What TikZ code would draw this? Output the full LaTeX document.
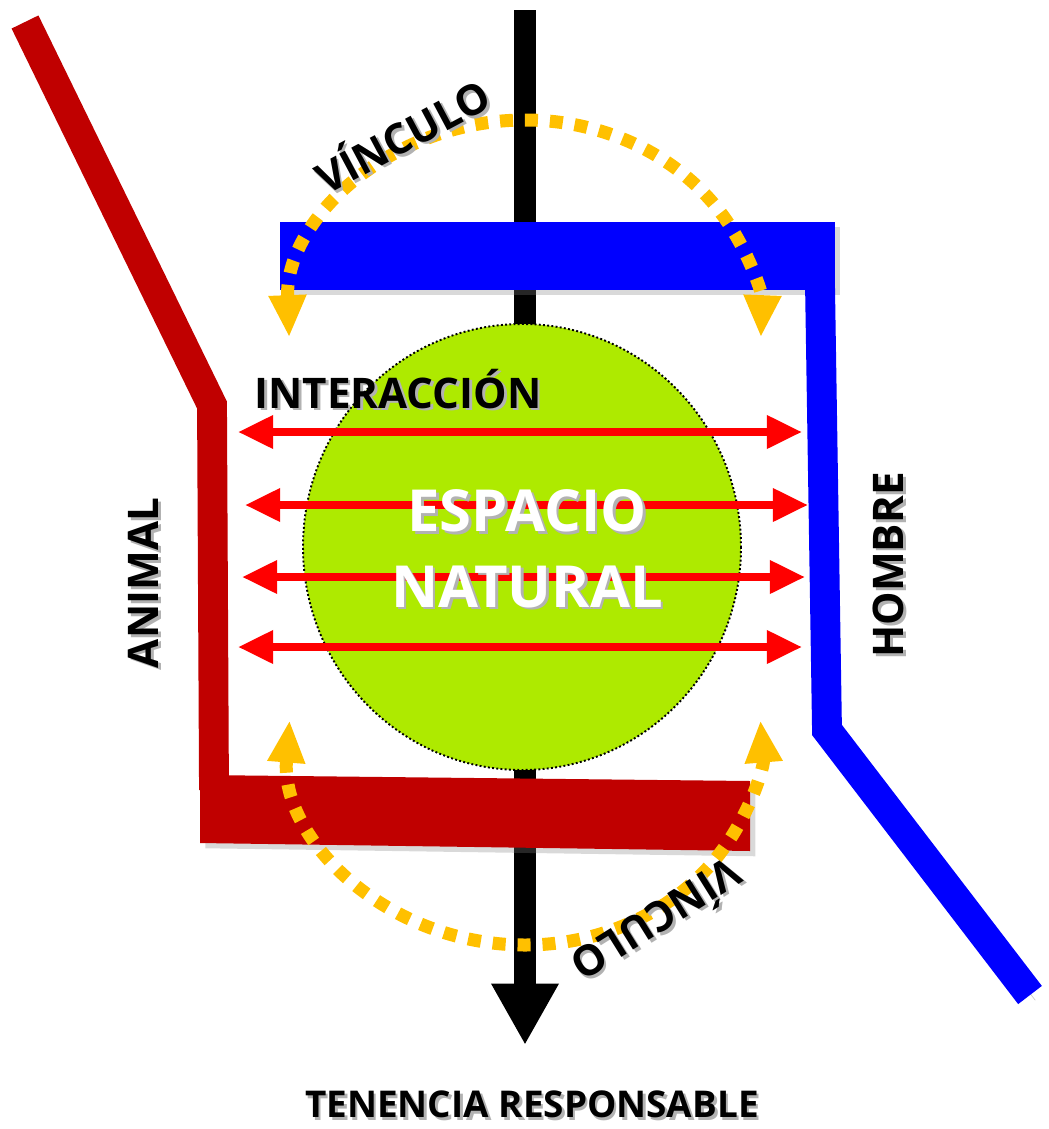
\documentclass[tikz,border=0pt]{standalone}
\usepackage{fontspec}
\setmainfont{Open Sans}
\usetikzlibrary{arrows.meta,shadows}

\definecolor{rojo}{HTML}{C00000}
\definecolor{azul}{HTML}{0000FF}
\definecolor{verde}{HTML}{AEEA00}
\definecolor{naranja}{HTML}{FFC000}
\definecolor{rojovivo}{HTML}{FF0000}

% text with a grey copy shifted behind it
\newcommand{\sombreado}[3]{\leavevmode\rlap{\hspace*{#1}\raisebox{#2}{\color{black!30}#3}}#3}

\tikzset{
  halo/.style={preaction={draw=black, opacity=0.2, transform canvas={xshift=3pt,yshift=-3pt}}},
  rotulo/.style={font=\bfseries\fontsize{24}{28}\selectfont, text=black, inner sep=0pt},
  interaccion/.style={draw=rojovivo, line width=4.5pt,
    {Triangle[length=20pt,width=18pt]}-{Triangle[length=20pt,width=18pt]}},
  vinculo/.style={draw=naranja, line width=7.4pt, dash pattern=on 7.4pt off 6.8pt,
    {Triangle[length=24pt,width=20pt]}-{Triangle[length=24pt,width=20pt]}},
}

\begin{document}
\begin{tikzpicture}[x=0.02cm, y=-0.02cm]

  \useasboundingbox (0,0) rectangle (1048,1129);

  % The central axis
  \coordinate (ejearriba) at (525,10);
  \coordinate (ejeabajo) at (525,1045);
  \draw[line width=12.5pt, -{Triangle[length=35pt,width=36pt]}] (ejearriba) -- (ejeabajo);

  % The natural space
  \fill[verde] (522,547) ellipse [x radius=219, y radius=223];
  \draw[line width=1.1pt, dash pattern=on 1.1pt off 1.3pt] (522,547) ellipse [x radius=219, y radius=223];

  % Man: blue bar and bent line
  \fill[azul, drop shadow={opacity=0.3, shadow xshift=3pt, shadow yshift=-3pt}] (280,222) rectangle (835,290);
  \draw[azul, line width=17pt, halo] (820,285) -- (827,730) -- (1030,995);

  % Animal: red bent line and bar
  \draw[rojo, line width=17pt, miter limit=2, halo] (25,22) -- (212,405) -- (214,790);
  \fill[rojo, drop shadow={opacity=0.3, shadow xshift=3pt, shadow yshift=-3pt}]
    (200,775) -- (750,781) -- (750,851) -- (200,843) -- cycle;

  % Interaction arrows
  \foreach \i/\y/\a/\b in {1/432/238/802, 2/505/245/808, 3/577/242/805, 4/647/238/802} {
    \coordinate (izq\i) at (\a,\y);
    \coordinate (der\i) at (\b,\y);
    \draw[interaccion] (izq\i) -- (der\i);
  }

  % Bond arcs
  \coordinate (centrosup) at (525,330);
  \coordinate (centroinf) at (525,735);
  \draw[vinculo] (centrosup) ++(178:236 and 210) arc[start angle=178, end angle=362, x radius=236, y radius=210];
  \draw[vinculo] (centroinf) ++(184:236 and 210) arc[start angle=184, end angle=-4, x radius=236, y radius=210];

  % Labels
  \node[rotulo, rotate=28] (vinculosup) at (402,135) {\sombreado{0.6pt}{-2pt}{VÍNCULO}};
  \node[rotulo, rotate=212] (vinculoinf) at (659,924) {\sombreado{-0.5pt}{2pt}{VÍNCULO}};
  \node[rotulo] (interac) at (398,390) {\sombreado{1.5pt}{-1.5pt}{INTERACCIÓN}};
  \node[rotulo, text=white, align=center, font=\bfseries\fontsize{33}{43}\selectfont] (espacio) at (527,550)
    {\sombreado{1.5pt}{-1.5pt}{ESPACIO}\\\sombreado{1.5pt}{-1.5pt}{NATURAL}};
  \node[rotulo, rotate=90] (animal) at (145,583) {\sombreado{-1.5pt}{-1.5pt}{ANIMAL}};
  \node[rotulo, rotate=90] (hombre) at (890,565) {\sombreado{-1.5pt}{-1.5pt}{HOMBRE}};
  \node[rotulo, font=\bfseries\fontsize{21}{25}\selectfont] (tenencia) at (532,1106)
    {\sombreado{1.5pt}{-1.5pt}{TENENCIA RESPONSABLE}};

\end{tikzpicture}
\end{document}
